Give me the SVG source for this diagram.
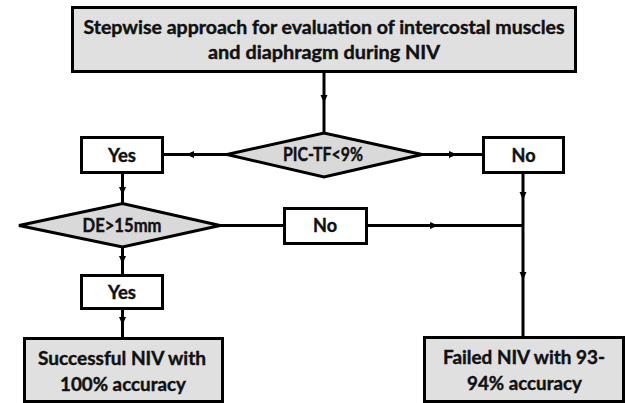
<svg xmlns="http://www.w3.org/2000/svg" width="627" height="403" viewBox="0 0 627 403">
<defs>
<style>
.box{fill:#fff;stroke:#000;stroke-width:3}
.gray{fill:#e0e0e0;stroke:#000;stroke-width:3}
.dia{fill:#d9d9d9;stroke:#000;stroke-width:3}
.t{font-family:Lato,"Liberation Sans",sans-serif;font-weight:bold;font-size:18px;fill:#111;stroke:#111;stroke-width:0.4;text-anchor:middle}
.c{fill:none;stroke:#000;stroke-width:3}
.a{marker-mid:url(#ah)}
</style>
<marker id="ah" markerUnits="userSpaceOnUse" markerWidth="10" markerHeight="10" refX="8" refY="3.5" orient="auto" viewBox="0 0 10 10">
<path d="M0,0 L8,3.5 L0,7 z" fill="#000"/>
</marker>
</defs>
<rect width="627" height="403" fill="#fff"/>
<g id="connectors">
<path class="c a" d="M324 72 V103 V133"/>
<path class="c a" d="M227 154.5 H186 H163"/>
<path class="c a" d="M422 154.5 H457 H483"/>
<path class="c a" d="M122.5 172 V195 V203"/>
<path class="c a" d="M523 172 V200 V280 V337"/>
<path class="c" d="M220 225.5 H284"/>
<path class="c a" d="M366 225.5 H438 H523"/>
<path class="c a" d="M122.5 247 V264 V275"/>
<path class="c a" d="M122.5 308 V325 V338"/>
</g>
<g id="title">
<rect class="gray" x="72.5" y="7.5" width="503" height="64"/>
<text class="t" x="324" y="34" textLength="481" lengthAdjust="spacingAndGlyphs">Stepwise approach for evaluation of intercostal muscles</text>
<text class="t" x="324" y="59" textLength="232" lengthAdjust="spacingAndGlyphs">and diaphragm during NIV</text>
</g>
<g id="pic-tf">
<polygon class="dia" points="227,154.5 324,133 422,154.5 324,177"/>
<text class="t" x="323" y="161" textLength="80" lengthAdjust="spacingAndGlyphs">PIC-TF&lt;9%</text>
</g>
<g id="yes1">
<rect class="box" x="81.5" y="137.5" width="81" height="35"/>
<text class="t" x="122" y="161.5" textLength="28" lengthAdjust="spacingAndGlyphs">Yes</text>
</g>
<g id="no1">
<rect class="box" x="483.5" y="137.5" width="80" height="35"/>
<text class="t" x="523.5" y="161.5" textLength="24" lengthAdjust="spacingAndGlyphs">No</text>
</g>
<g id="de">
<polygon class="dia" points="19,225.5 122.5,203.5 220,225.5 122.5,247"/>
<text class="t" x="122" y="231.5" textLength="79" lengthAdjust="spacingAndGlyphs">DE&gt;15mm</text>
</g>
<g id="no2">
<rect class="box" x="284.5" y="208.5" width="82" height="35"/>
<text class="t" x="325" y="231.5" textLength="24" lengthAdjust="spacingAndGlyphs">No</text>
</g>
<g id="yes2">
<rect class="box" x="81.5" y="275.5" width="81" height="33"/>
<text class="t" x="122" y="299" textLength="28" lengthAdjust="spacingAndGlyphs">Yes</text>
</g>
<g id="success">
<rect class="gray" x="24.5" y="338.5" width="198" height="63"/>
<text class="t" x="122" y="364.5" textLength="168" lengthAdjust="spacingAndGlyphs">Successful NIV with</text>
<text class="t" x="123" y="390.5" textLength="126" lengthAdjust="spacingAndGlyphs">100% accuracy</text>
</g>
<g id="failed">
<rect class="gray" x="424.5" y="337.5" width="199" height="64"/>
<text class="t" x="524" y="363.5" textLength="162" lengthAdjust="spacingAndGlyphs">Failed NIV with 93-</text>
<text class="t" x="524.5" y="389.5" textLength="115" lengthAdjust="spacingAndGlyphs">94% accuracy</text>
</g>
</svg>
